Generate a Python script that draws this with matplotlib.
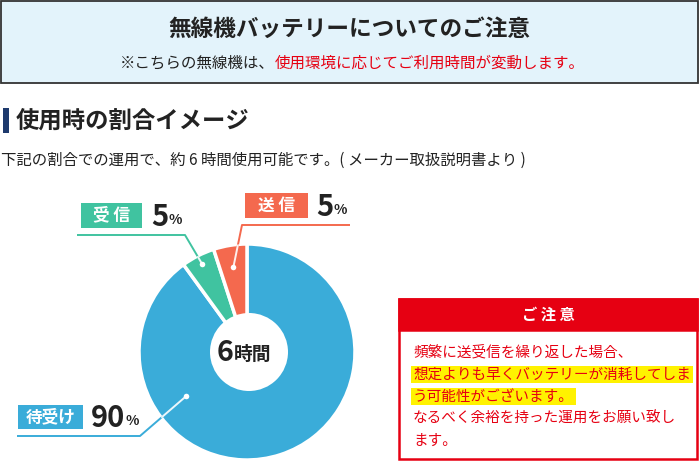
import matplotlib
matplotlib.use("Agg")
import numpy as np
import matplotlib.pyplot as plt
from matplotlib.patches import Rectangle, Circle

plt.rcParams['font.family'] = ['Noto Sans CJK JP', 'DejaVu Sans']

# ==============================
# Data
# ==============================
labels = ["待受け", "受信", "送信"]
shares = [90, 5, 5]
colors = ["#3aacd9", "#40c3a0", "#f4694e"]
total_hours = 6

title = "無線機バッテリーについてのご注意"
sub_black = "※こちらの無線機は、"
sub_red = "使用環境に応じてご利用時間が変動します。"
section = "使用時の割合イメージ"
desc = "下記の割合での運用で、約 6 時間使用可能です。( メーカー取扱説明書より )"
note_title = "ご 注 意"
note_lines = [
    "頻繁に送受信を繰り返した場合、",
    "想定よりも早くバッテリーが消耗してしま",
    "う可能性がございます。",
    "なるべく余裕を持った運用をお願い致し",
    "ます。",
]
note_highlight = [False, True, True, False, False]

RED = "#e60012"
W, H = 700, 463

fig = plt.figure(figsize=(7, 4.63), dpi=100)

# ==============================
# Pie (own axes, placed in pixels)
# ==============================
cx, cy, R = 247, 352, 108
ax_pie = fig.add_axes([(cx - R) / W, 1 - (cy + R) / H, 2 * R / W, 2 * R / H])
ax_pie.set_zorder(1)
wedges, _ = ax_pie.pie(shares, colors=colors, startangle=90, counterclock=False,
                       wedgeprops=dict(edgecolor="white", linewidth=2.5))
ax_pie.set_xlim(-1, 1)
ax_pie.set_ylim(-1, 1)
ax_pie.set_aspect("auto")
ax_pie.axis("off")

# ==============================
# Overlay axes in pixel coords
# ==============================
ax = fig.add_axes([0, 0, 1, 1])
ax.set_zorder(2)
ax.patch.set_visible(False)
ax.set_xlim(0, W)
ax.set_ylim(H, 0)
ax.axis("off")

# header box
ax.add_patch(Rectangle((1, 1), 697, 82, facecolor="#e3f3fb", edgecolor="#333333", lw=1.3))
ax.text(349, 29, title, ha="center", va="center", fontsize=16.3, fontweight="bold", color="#222222")
t1 = ax.text(120, 63, sub_black, ha="left", va="center", fontsize=11.2, color="#222222")

fig.canvas.draw()
renderer = fig.canvas.get_renderer()
x_end = t1.get_window_extent(renderer).x1
ax.text(x_end, 63, sub_red, ha="left", va="center", fontsize=11.2, color=RED)

# section header
ax.add_patch(Rectangle((3, 108), 6, 25, facecolor="#1e3a6d", edgecolor="none"))
ax.text(16, 121, section, ha="left", va="center", fontsize=16.8, fontweight="bold", color="#222222")
ax.text(1, 160, desc, ha="left", va="center", fontsize=11.1, color="#222222")

# inner circle + hours
ax.add_patch(Circle((cx + 2, cy), 39, facecolor="white", edgecolor="none"))
t6 = ax.text(217, cy + 1, str(total_hours), ha="left", va="center", fontsize=20.5,
             fontweight="bold", color="#222222")
x6 = t6.get_window_extent(renderer).x1
ax.text(x6, cy + 2, "時間", ha="left", va="center", fontsize=13.5, fontweight="bold", color="#222222")

# ==============================
# Labels with leader lines
# ==============================
def wedge_point(w, frac, ang=None):
    if ang is None:
        ang = (w.theta1 + w.theta2) / 2
    a = np.deg2rad(ang)
    return cx + frac * R * np.cos(a), cy - frac * R * np.sin(a)

# per label: box (x, y, w, h), number x, line start + knee, anchor on wedge
layout = {
    "待受け": dict(box=(18, 405, 65, 24), num_x=91, line=[(17, 436), (140, 436)], anchor=(0.7, 216)),
    "受信": dict(box=(81, 203, 61, 25), num_x=151, line=[(77, 235), (185, 235)], anchor=(0.91, None)),
    "送信": dict(box=(245, 193, 63, 25), num_x=316, line=[(350, 225), (242, 225)], anchor=(0.8, None)),
}

clip = Circle((cx, cy), R, transform=ax.transData)
for lab, val, col, w in zip(labels, shares, colors, wedges):
    lay = layout[lab]
    bx, by, bw, bh = lay["box"]
    ax.add_patch(Rectangle((bx, by), bw, bh, facecolor=col, edgecolor="none"))
    ax.text(bx + bw / 2, by + bh / 2, " ".join(lab) if len(lab) == 2 else lab,
            ha="center", va="center", fontsize=12, fontweight="bold", color="white")
    tn = ax.text(lay["num_x"], by + bh / 2 + 1, str(val), ha="left", va="center",
                 fontsize=21, fontweight="bold", color="#222222")
    xn = tn.get_window_extent(renderer).x1
    ax.text(xn + 0.5, by + bh / 2 + 4, "%", ha="left", va="center", fontsize=10,
            fontweight="bold", color="#222222")

    frac, ang = lay["anchor"]
    px, py = wedge_point(w, frac, ang)
    xs = [p[0] for p in lay["line"]] + [px]
    ys = [p[1] for p in lay["line"]] + [py]
    ax.plot(xs, ys, color=col, lw=1.4, solid_capstyle="butt")
    inner, = ax.plot(xs, ys, color="white", lw=1.4, alpha=0.9)
    inner.set_clip_path(clip)
    ax.plot(px, py, "o", color="white", ms=4, mec="none")

# ==============================
# Note box
# ==============================
ax.add_patch(Rectangle((399, 299), 298, 160, facecolor="white", edgecolor=RED, lw=1.8))
ax.add_patch(Rectangle((399, 299), 298, 31, facecolor=RED, edgecolor=RED, lw=1.8))
ax.text(548, 315, note_title, ha="center", va="center", fontsize=11, fontweight="bold", color="white")

for i, (line, hl) in enumerate(zip(note_lines, note_highlight)):
    y = 352 + i * 22.3
    kw = {}
    if hl:
        kw["bbox"] = dict(boxstyle="square,pad=0.12", facecolor="#fff200", edgecolor="none")
    ax.text(413, y, line, ha="left", va="center", fontsize=10.5, color=RED, **kw)

fig.savefig("out.png", dpi=100)
